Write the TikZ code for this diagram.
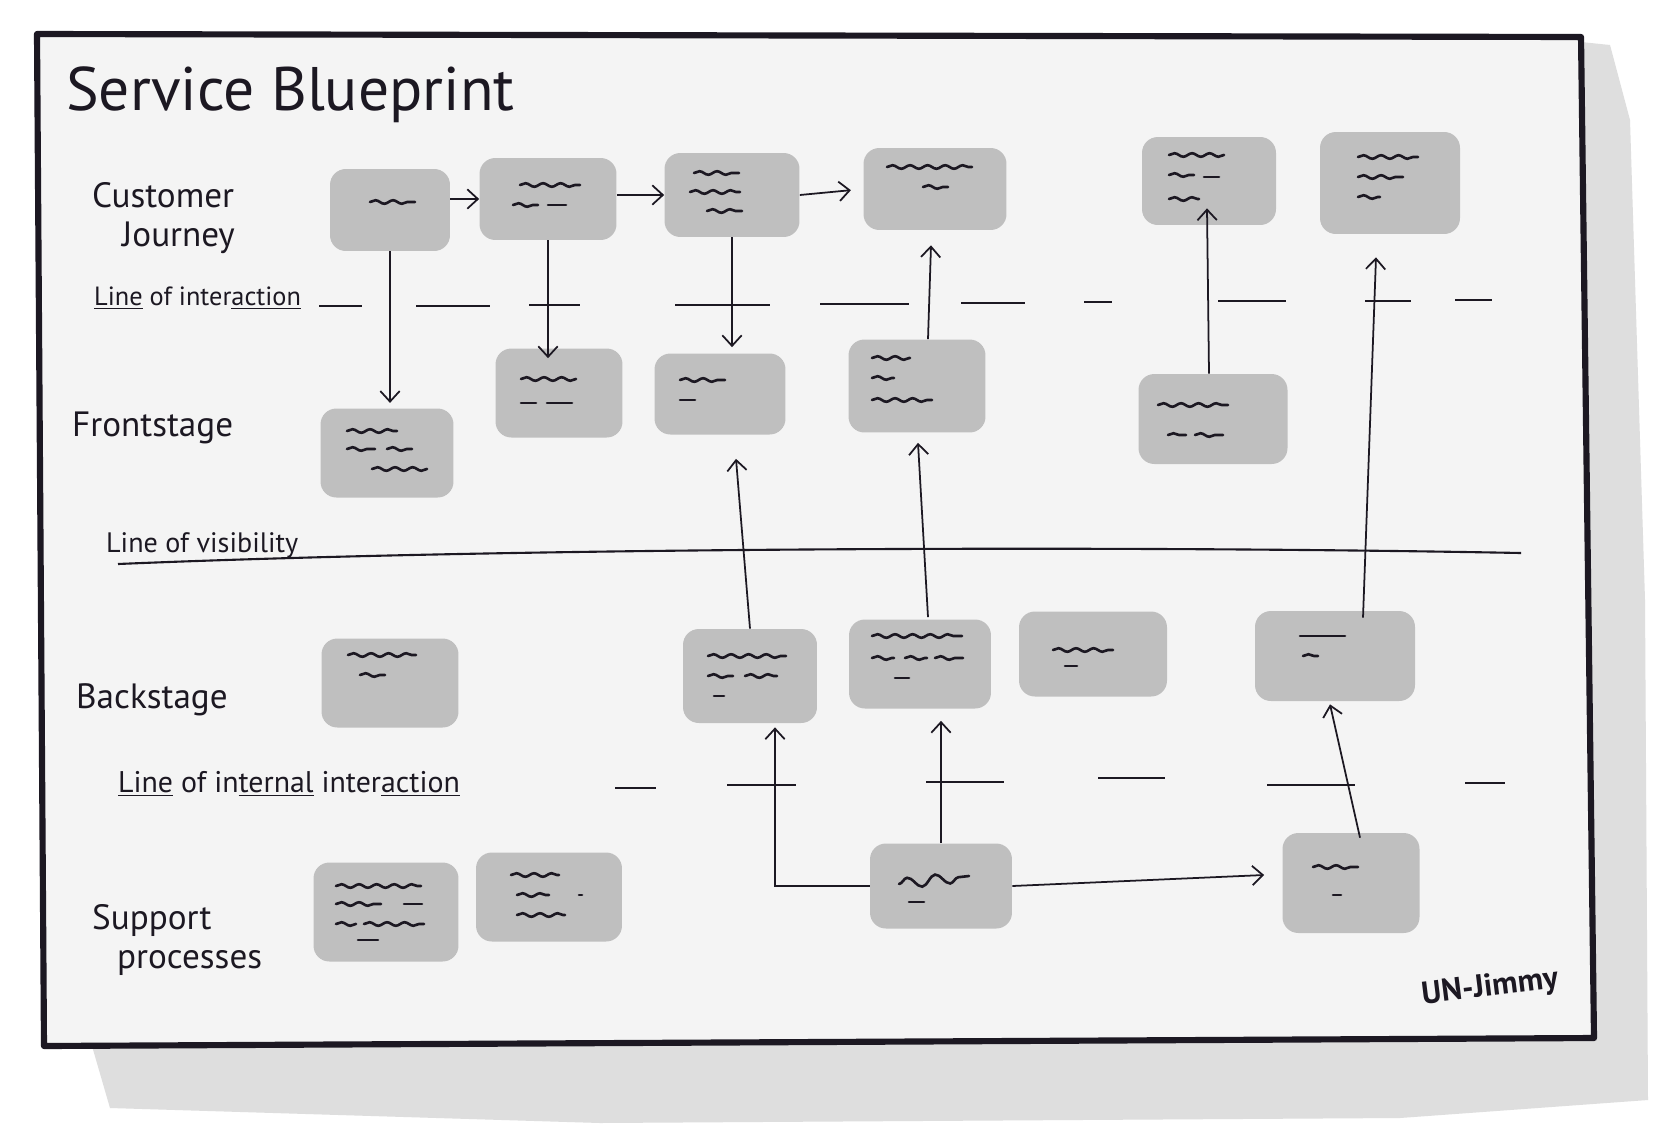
\documentclass[tikz,border=0pt]{standalone}
\usepackage{fontspec}
\setmainfont{PT Sans}
\usetikzlibrary{arrows.meta,positioning,calc,decorations.pathmorphing}
\definecolor{cardgray}{RGB}{191,191,191}
\definecolor{paper}{RGB}{244,244,244}
\definecolor{shadowgray}{RGB}{222,222,222}
\definecolor{ink}{RGB}{28,24,34}

\begin{document}
\begin{tikzpicture}[
  x=0.02cm, y=-0.02cm,
  card/.style={fill=cardgray, rounded corners=9pt, inner sep=0pt},
  scrib/.style={ink, line width=1.5pt, line cap=round, decorate,
    decoration={snake, amplitude=1pt, segment length=10pt}},
  flat/.style={ink, line width=1.5pt, line cap=round},
  arr/.style={ink, line width=1pt, -{Straight Barb[length=6pt, width=11pt]}},
  lane/.style={ink, anchor=west, font=\fontsize{20}{22}\selectfont},
  sep/.style={ink, anchor=west, font=\fontsize{15}{17}\selectfont},
  boundary/.style={ink, line width=1.2pt}
]
\useasboundingbox (0,0) rectangle (1653,1133);
\fill[white] (0,0) rectangle (1653,1133);

% sheet and its shadow
\fill[shadowgray] (1581,42) -- (1610,45) -- (1630,120) -- (1645,600) -- (1648,1100)
  -- (1400,1118) -- (600,1123) -- (110,1108) -- (92,1046) -- cycle;
\filldraw[fill=paper, draw=ink, line width=3.5pt, line join=round]
  (37,34) -- (1581,37) -- (1594,1038) -- (44,1046) -- cycle;

\node[ink, anchor=west, font=\fontsize{35}{38}\selectfont] (title) at (60,95) {Service Blueprint};

% lane names
\node[lane, align=left] (cust) at (86,218) {Customer\\\hspace{0.6cm}Journey};
\node[lane] (front) at (66,428) {Frontstage};
\node[lane] (back) at (70,700) {Backstage};
\node[lane, align=left] (supp) at (86,940) {Support\\\hspace{0.5cm}processes};

% separating lines
\node[sep] (lint) at (88,298) {\underline{Line} of inter\underline{action}};
\node[sep, font=\fontsize{16}{18}\selectfont] (lvis) at (100,545) {Line of visibility};
\node[sep, font=\fontsize{17}{19}\selectfont] (lii) at (112,784) {\underline{Line} of in\underline{ternal} inter\underline{action}};

\foreach \a/\b/\c in {319/362/306, 416/490/306, 529/580/305, 675/770/305, 820/909/304,
  961/1025/303, 1084/1112/302, 1218/1286/301, 1365/1411/301, 1455/1492/300}
  \draw[boundary] (\a,\c) -- (\b,\c);
\draw[boundary] (118,564) .. controls (500,548) and (1100,545) .. (1521,553);
\foreach \a/\b/\c in {615/656/788, 727/796/785, 926/1004/782, 1098/1165/778,
  1267/1355/785, 1465/1505/783}
  \draw[boundary] (\a,\c) -- (\b,\c);

% customer journey
\node[card, minimum width=2.4cm, minimum height=1.64cm] (cj1) at (390,210) {};
\node[card, minimum width=2.74cm, minimum height=1.64cm] (cj2) at (548,199) {};
\node[card, minimum width=2.7cm, minimum height=1.68cm] (cj3) at (732,195) {};
\node[card, minimum width=2.86cm, minimum height=1.64cm] (cj4) at (935,189) {};
\node[card, minimum width=2.68cm, minimum height=1.76cm] (cj5) at (1209,181) {};
\node[card, minimum width=2.8cm, minimum height=2.04cm] (cj6) at (1390,183) {};

% frontstage
\node[card, minimum width=2.66cm, minimum height=1.78cm] (fs1) at (387,453) {};
\node[card, minimum width=2.54cm, minimum height=1.78cm] (fs2) at (559,393) {};
\node[card, minimum width=2.62cm, minimum height=1.62cm] (fs3) at (720,394) {};
\node[card, minimum width=2.74cm, minimum height=1.86cm] (fs4) at (917,386) {};
\node[card, minimum width=2.98cm, minimum height=1.8cm] (fs5) at (1213,419) {};

% backstage
\node[card, minimum width=2.74cm, minimum height=1.78cm] (bs1) at (390,683) {};
\node[card, minimum width=2.68cm, minimum height=1.88cm] (bs2) at (750,676) {};
\node[card, minimum width=2.84cm, minimum height=1.78cm] (bs3) at (920,664) {};
\node[card, minimum width=2.96cm, minimum height=1.7cm] (bs4) at (1093,654) {};
\node[card, minimum width=3.2cm, minimum height=1.8cm] (bs5) at (1335,656) {};

% support processes
\node[card, minimum width=2.9cm, minimum height=1.98cm] (sp1) at (386,912) {};
\node[card, minimum width=2.92cm, minimum height=1.78cm] (sp2) at (549,897) {};
\node[card, minimum width=2.84cm, minimum height=1.7cm] (sp3) at (941,886) {};
\node[card, minimum width=2.74cm, minimum height=2.0cm] (sp4) at (1351,883) {};

% scribbles in the cards
\foreach \n/\dx/\dy/\l in {cj1/-20/-8/45, cj2/-28/-14/60, cj2/-35/6/25,
  cj3/-38/-22/45, cj3/-42/-3/50, cj3/-25/16/35, cj4/-48/-22/85, cj4/-12/-2/25,
  cj5/-40/-26/55, cj5/-40/-6/25, cj5/-40/18/30, cj6/-32/-26/60, cj6/-32/-6/45,
  cj6/-32/14/22, fs1/-40/-22/50, fs1/-40/-4/28, fs1/0/-4/25, fs1/-15/16/55,
  fs2/-38/-14/55, fs3/-40/-14/45, fs4/-45/-28/38, fs4/-45/-8/22, fs4/-45/14/60,
  fs5/-55/-14/70, fs5/-45/16/18, fs5/-18/16/28, bs1/-42/-28/68, bs1/-30/-8/25,
  bs2/-42/-20/78, bs2/-42/0/25, bs2/-5/0/32, bs3/-48/-28/90, bs3/-48/-6/22,
  bs3/-15/-6/22, bs3/15/-6/28, bs4/-40/-4/60, bs5/-32/0/15, sp1/-50/-26/85,
  sp1/-50/-8/45, sp1/-50/12/20, sp1/-22/12/60, sp2/-38/-22/48, sp2/-32/-2/32,
  sp2/-32/18/48, sp4/-38/-16/45}
  \draw[scrib] ([shift={(\dx,\dy)}]\n.center) -- ++(\l,0);
\foreach \n/\dx/\dy/\l in {cj2/0/6/18, cj5/-5/-4/15, fs2/-38/10/15, fs2/-12/10/25,
  fs3/-40/6/15, bs2/-36/20/10, bs3/-25/14/14, bs4/-28/12/12, bs5/-35/-20/45,
  sp1/-28/28/20, sp1/18/-8/18, sp2/30/-2/3, sp3/-32/16/15, sp4/-18/12/8}
  \draw[flat] ([shift={(\dx,\dy)}]\n.center) -- ++(\l,0);
\draw[scrib, decoration={snake, amplitude=3pt, segment length=16pt}]
  ([shift={(-42,-2)}]sp3.center) -- ++(70,-8);

% connectors
\draw[arr] (cj1.east |- cj2.west) -- (cj2.west);
\draw[arr] (cj2.east |- cj3.west) -- (cj3.west);
\draw[arr, shorten >=7pt] (cj3.east) -- (cj4.west);
\draw[arr, shorten >=3pt] (cj1.south) -- (cj1.south |- fs1.north);
\draw[arr] (cj2.south) -- ($(cj2.south |- fs2.north)+(0,10)$);
\draw[arr] (cj3.south) -- ($(cj3.south |- fs3.north)+(0,-6)$);
\draw[arr] ($(fs4.north)+(11,0)$) -- ($(cj4.south)+(-4,15)$);
\draw[arr] ($(fs5.north)+(-4,0)$) -- ($(cj5.south)+(-2,-17)$);
\draw[arr] ($(bs5.north)+(28,7)$) -- ($(cj6.south)+(-14,23)$);
\draw[arr] (bs2.north) -- ($(fs3.south)+(16,24)$);
\draw[arr] ($(bs3.north)+(8,-2)$) -- ($(fs4.south)+(1,10)$);
\draw[arr] (sp3.west) -| ($(bs2.south)+(25,4)$);
\draw[arr] (sp3.north) -- ($(bs3.south)+(21,12)$);
\draw[arr] (sp3.east) -- ($(sp4.west)+(-18,-8)$);
\draw[arr] ($(sp4.north)+(9,5)$) -- ($(bs5.south)+(-5,3)$);

\node[ink, font=\bfseries\fontsize{18}{20}\selectfont, rotate=7] (sig) at (1490,988) {UN-Jimmy};
\end{tikzpicture}
\end{document}
